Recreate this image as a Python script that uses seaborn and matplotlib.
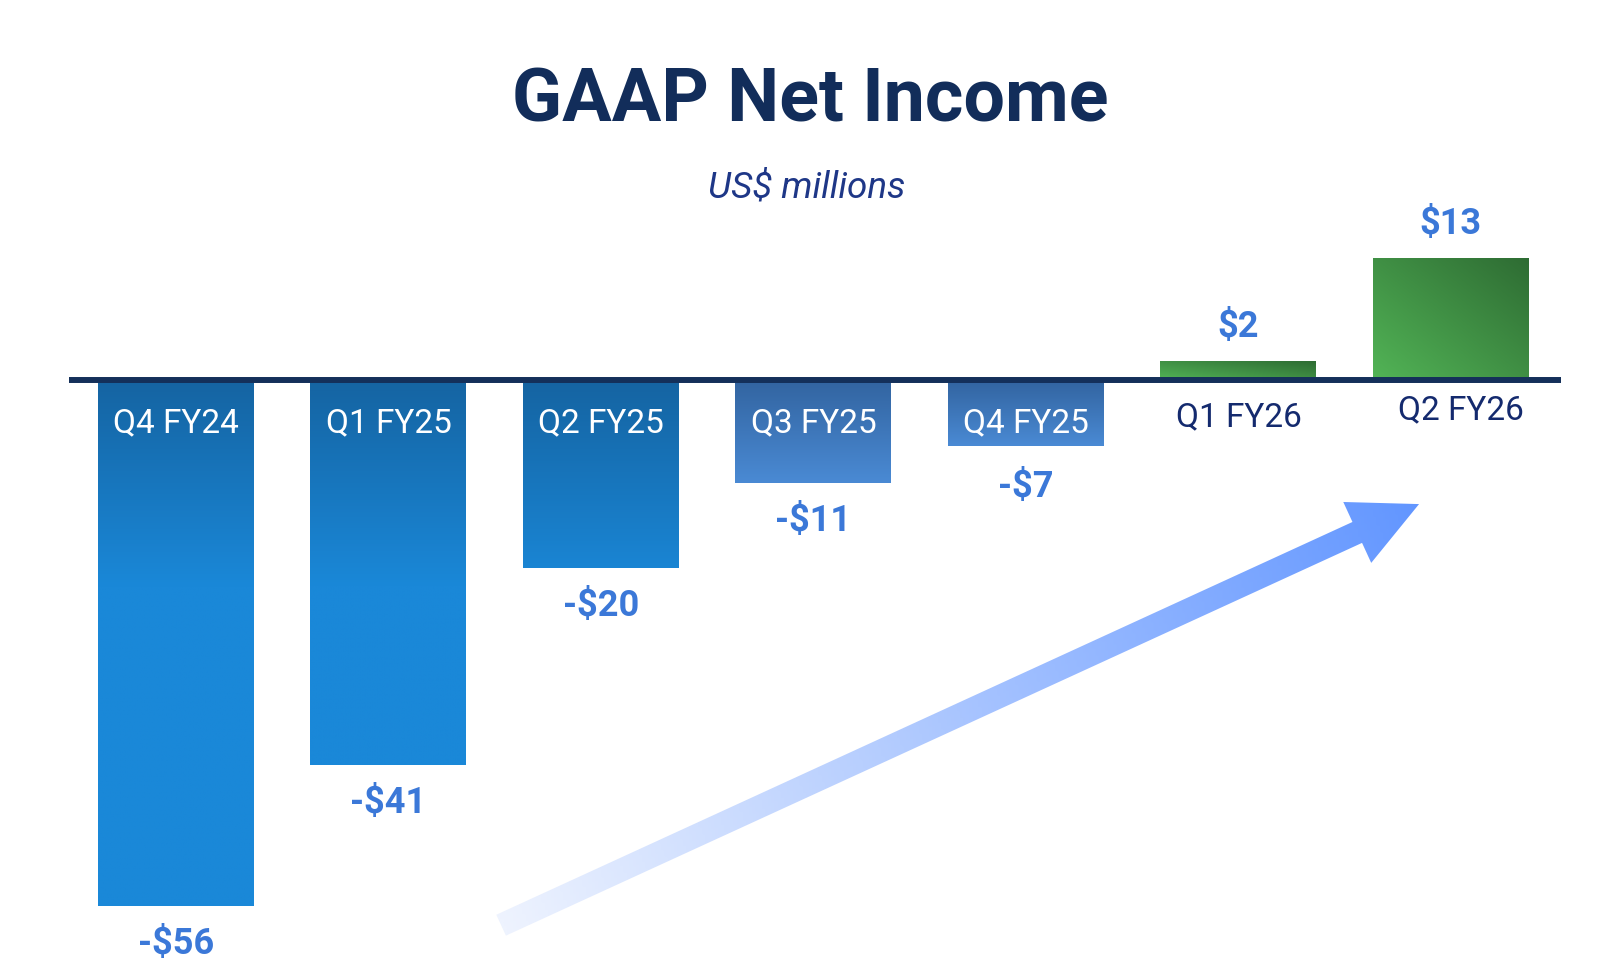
import numpy as np
import matplotlib
matplotlib.use("Agg")
import matplotlib.pyplot as plt
import seaborn as sns
from matplotlib.colors import LinearSegmentedColormap
from matplotlib.patches import FancyArrow

sns.set_theme(style="white")
plt.rcParams['font.family'] = ['Roboto', 'DejaVu Sans']

# data
quarters = ['Q4 FY24', 'Q1 FY25', 'Q2 FY25', 'Q3 FY25', 'Q4 FY25', 'Q1 FY26', 'Q2 FY26']
net_income = [-56, -41, -20, -11, -7, 2, 13]
value_labels = ['-$56', '-$41', '-$20', '-$11', '-$7', '$2', '$13']

W, H = 1622, 972
fig = plt.figure(figsize=(W / 100, H / 100), dpi=100)
fig.patch.set_facecolor('white')

ax = fig.add_axes([69 / W, 0, (1561 - 69) / W, 1])
sns.barplot(x=quarters, y=net_income, ax=ax, width=0.734, color='#1a88d8',
            saturation=1, linewidth=0, zorder=2)
ax.set_xlim(-0.5035, 6.518)
ax.set_ylim(-(H - 380) / 9.4, 380 / 9.4)
ax.axis('off')

navy = '#122d5a'
val_blue = '#3b78d8'

# gradient fills clipped to the bars
for i, p in enumerate(ax.patches):
    x0, w = p.get_x(), p.get_width()
    y0, h = p.get_y(), p.get_height()
    lo, hi = min(y0, y0 + h), max(y0, y0 + h)
    if net_income[i] < 0 and i < 3:
        depth = np.linspace(0, -lo, 400)
        t = np.clip(depth / 22.0, 0, 1).reshape(-1, 1)
        cmap = LinearSegmentedColormap.from_list('b1', ['#1564a2', '#1a88d8'])
    elif net_income[i] < 0:
        t = np.linspace(0, 1, 200).reshape(-1, 1)
        cmap = LinearSegmentedColormap.from_list('b2', ['#3264a0', '#4a8ad4'])
    else:
        gx, gy = np.meshgrid(np.linspace(0, 1, 100), np.linspace(1, 0, 100))
        t = (gx + gy) / 2
        cmap = LinearSegmentedColormap.from_list('g', ['#52b456', '#2e6c33'])
    img = ax.imshow(t, cmap=cmap, vmin=0, vmax=1, origin='upper', aspect='auto',
                    extent=[x0, x0 + w, lo, hi], zorder=3, interpolation='bilinear')
    img.set_clip_path(p)

ax.axhline(0, color='#14305a', lw=4.3, zorder=5)
ax.set_xlim(-0.5035, 6.518)
ax.set_ylim(-(H - 380) / 9.4, 380 / 9.4)

# category and value labels
for i, (q, v, lab) in enumerate(zip(quarters, net_income, value_labels)):
    if v < 0:
        ax.annotate(q, (i, 0), xytext=(0, -31), textcoords='offset points',
                    ha='center', va='center', color='white', fontsize=24, zorder=6)
        off = -30 if i == 4 else -27
        ax.annotate(lab, (i, v), xytext=(0, off), textcoords='offset points',
                    ha='center', va='center', color=val_blue, fontsize=26,
                    fontweight='bold', zorder=6)
    else:
        dy = -27 if i == 5 else -22
        dx = 0 if i == 5 else 7
        ax.annotate(q, (i, 0), xytext=(dx, dy), textcoords='offset points',
                    ha='center', va='center', color='#142a6e', fontsize=24, zorder=6)
        ax.annotate(lab, (i, v), xytext=(0, 24.5), textcoords='offset points',
                    ha='center', va='center', color=val_blue, fontsize=26,
                    fontweight='bold', zorder=6)

# trend arrow with gradient
arrow_from = (1.53, -58.0)
arrow_to = (5.85, -13.2)
fx = fig.add_axes([0, 0, 1, 1], zorder=-1)
fx.set_xlim(0, W)
fx.set_ylim(H, 0)
fx.axis('off')
fx.patch.set_alpha(0)
p0 = ax.transData.transform(arrow_from)
p1 = ax.transData.transform(arrow_to)
tx, ty = p0[0], H - p0[1]
hx, hy = p1[0], H - p1[1]
arr = FancyArrow(tx, ty, hx - tx, hy - ty, width=23, head_width=67, head_length=68,
                 length_includes_head=True, facecolor='none', edgecolor='none')
fx.add_patch(arr)
xmin, xmax = min(tx, hx) - 50, max(tx, hx) + 50
ymin, ymax = min(ty, hy) - 50, max(ty, hy) + 50
gx, gy = np.meshgrid(np.linspace(xmin, xmax, 300), np.linspace(ymin, ymax, 300))
ddx, ddy = hx - tx, hy - ty
tt = np.clip(((gx - tx) * ddx + (gy - ty) * ddy) / (ddx ** 2 + ddy ** 2), 0, 1)
acmap = LinearSegmentedColormap.from_list('a', ['#eef3fe', '#a9c5ff', '#6296ff'])
aimg = fx.imshow(tt, cmap=acmap, vmin=0, vmax=1, origin='upper', aspect='auto',
                 extent=[xmin, xmax, ymax, ymin], interpolation='bilinear')
aimg.set_clip_path(arr)
fx.set_xlim(0, W)
fx.set_ylim(H, 0)

# titles
fig.text(0.4995, 1 - 102 / H, 'GAAP Net Income', ha='center', va='center',
         fontsize=53, fontweight='bold', color=navy)
fig.text(0.4975, 1 - 187 / H, 'US$ millions', ha='center', va='center',
         fontsize=26.5, fontstyle='italic', color='#1e3787')

plt.savefig('out.png', dpi=100, facecolor='white')
